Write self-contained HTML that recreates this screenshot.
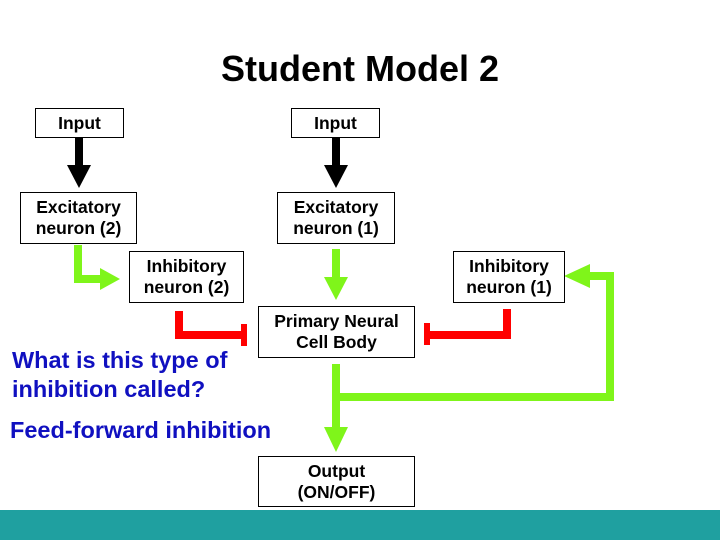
<!DOCTYPE html>
<html><head><style>
body{margin:0;width:720px;height:540px;background:#fff;position:relative;overflow:hidden;font-family:"Liberation Sans",Arial,sans-serif}
.b{position:absolute;border:1px solid #000;background:#fff;box-sizing:border-box;display:flex;align-items:center;justify-content:center;text-align:center;font-weight:bold;font-size:17.5px;line-height:21px;white-space:nowrap}
.t{position:absolute;font-weight:bold;color:#1010c0;font-size:23.5px;line-height:29px;white-space:nowrap}
</style></head><body>
<div style="position:absolute;left:0;top:48px;width:720px;text-align:center;font-size:36px;font-weight:bold">Student Model 2</div>
<svg width="720" height="540" style="position:absolute;left:0;top:0">
<g fill="#000">
<rect x="75" y="137" width="8" height="28"/><polygon points="67,165 91,165 79,188"/>
<rect x="332" y="137" width="8" height="28"/><polygon points="324,165 348,165 336,188"/>
</g>
<g fill="#7ff51a">
<polygon points="74,245 82,245 82,275 100,275 100,268 120,279 100,290 100,283 74,283"/>
<rect x="332" y="249" width="8" height="28"/><polygon points="324,277 348,277 336,300"/>
<rect x="332" y="364" width="8" height="63"/><polygon points="324,427 348,427 336,452"/>
<polygon points="340,393 606,393 606,280 590,280 590,288 564,276 590,264 590,272 614,272 614,401 340,401"/>
</g>
<g fill="#f00">
<polygon points="175,311 183,311 183,331 243,331 243,339 175,339"/>
<rect x="241" y="324" width="6" height="22"/>
<polygon points="503,309 511,309 511,339 428,339 428,331 503,331"/>
<rect x="424" y="323" width="6" height="22"/>
</g>
<rect x="0" y="510" width="720" height="30" fill="#1fa0a0"/>
</svg>
<div class="b" style="left:35px;top:108px;width:89px;height:30px">Input</div>
<div class="b" style="left:291px;top:108px;width:89px;height:30px">Input</div>
<div class="b" style="left:20px;top:192px;width:117px;height:52px">Excitatory<br>neuron (2)</div>
<div class="b" style="left:277px;top:192px;width:118px;height:52px">Excitatory<br>neuron (1)</div>
<div class="b" style="left:129px;top:251px;width:115px;height:52px">Inhibitory<br>neuron (2)</div>
<div class="b" style="left:453px;top:251px;width:112px;height:52px">Inhibitory<br>neuron (1)</div>
<div class="b" style="left:258px;top:306px;width:157px;height:52px">Primary Neural<br>Cell Body</div>
<div class="b" style="left:258px;top:456px;width:157px;height:51px">Output<br>(ON/OFF)</div>
<div class="t" style="left:12px;top:346px">What is this type of<br>inhibition called?</div>
<div class="t" style="left:10px;top:416px">Feed-forward inhibition</div>
</body></html>
